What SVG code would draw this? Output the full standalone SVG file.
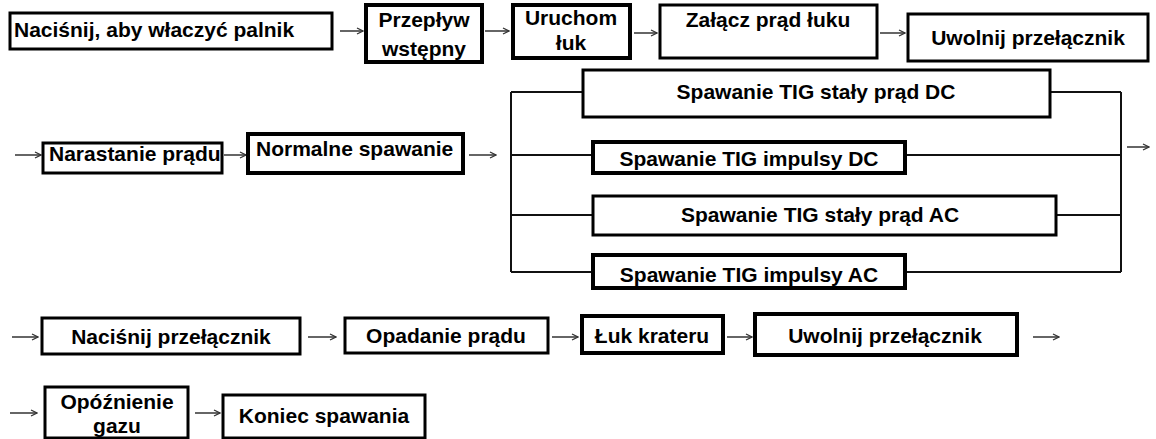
<svg xmlns="http://www.w3.org/2000/svg" width="1156" height="439" viewBox="0 0 1156 439">
<style>
.box{fill:#fff;stroke:#000;stroke-width:3}
.thick{stroke-width:4}
.t{font-family:"Liberation Sans",Arial,sans-serif;font-weight:bold;font-size:21px;fill:#000}
.c{text-anchor:middle}
.conn{stroke:#333;stroke-width:1.5;fill:none}
.ln{stroke:#111;stroke-width:2;fill:none}
</style>
<defs>
<marker id="ah" markerWidth="8" markerHeight="8" refX="7" refY="4" orient="auto" markerUnits="userSpaceOnUse">
<path d="M1,1 L7,4 L1,7" fill="none" stroke="#333" stroke-width="1.3"/>
</marker>
</defs>
<rect width="1156" height="439" fill="#fff"/>
<g id="connectors">
<path class="conn" marker-end="url(#ah)" d="M340,31 H363"/>
<path class="conn" marker-end="url(#ah)" d="M485,31 H509"/>
<path class="conn" marker-end="url(#ah)" d="M634,33 H657"/>
<path class="conn" marker-end="url(#ah)" d="M880,33 H905"/>
<path class="conn" marker-end="url(#ah)" d="M15,155 H41"/>
<path class="conn" marker-end="url(#ah)" d="M224,155 H246"/>
<path class="conn" marker-end="url(#ah)" d="M469,155 H496"/>
<path class="ln" d="M511,92 V272 M1121,92 V272 M511,92 H583 M1050,92 H1121 M511,155 H593 M905,155 H1121 M511,215 H593 M1056,215 H1121 M511,272 H593 M905,272 H1121"/>
<path class="conn" marker-end="url(#ah)" d="M1127,147 H1149"/>
<path class="conn" marker-end="url(#ah)" d="M12,337 H38"/>
<path class="conn" marker-end="url(#ah)" d="M308,337 H336"/>
<path class="conn" marker-end="url(#ah)" d="M552,337 H578"/>
<path class="conn" marker-end="url(#ah)" d="M727,337 H752"/>
<path class="conn" marker-end="url(#ah)" d="M1033,337 H1059"/>
<path class="conn" marker-end="url(#ah)" d="M10,413 H37"/>
<path class="conn" marker-end="url(#ah)" d="M195,413 H220"/>
</g>
<g id="n1"><rect class="box" x="10" y="13" width="322" height="36"/><text class="t" x="14" y="37">Naciśnij, aby właczyć palnik</text></g>
<g id="n2"><rect class="box thick" x="366" y="5" width="116" height="57"/><text class="t c" x="424" y="27">Przepływ</text><text class="t c" x="424" y="56">wstępny</text></g>
<g id="n3"><rect class="box thick" x="513" y="5" width="117" height="53"/><text class="t c" x="571" y="25">Uruchom</text><text class="t c" x="571" y="50">łuk</text></g>
<g id="n4"><rect class="box" x="660" y="5" width="217" height="53"/><text class="t c" x="768" y="27">Załącz prąd łuku</text></g>
<g id="n5"><rect class="box" x="908" y="14" width="240" height="47"/><text class="t c" x="1028" y="45">Uwolnij przełącznik</text></g>
<g id="n6"><rect class="box" x="43" y="143" width="179" height="30"/><text class="t" x="49" y="161">Narastanie prądu</text></g>
<g id="n7"><rect class="box thick" x="248" y="134" width="215" height="39"/><text class="t" x="256" y="156">Normalne spawanie</text></g>
<g id="n8"><rect class="box" x="583" y="70" width="467" height="47"/><text class="t c" x="816" y="99">Spawanie TIG stały prąd DC</text></g>
<g id="n9"><rect class="box thick" x="593" y="142" width="312" height="31"/><text class="t c" x="749" y="166">Spawanie TIG impulsy DC</text></g>
<g id="n10"><rect class="box" x="593" y="196" width="463" height="39"/><text class="t c" x="820" y="222">Spawanie TIG stały prąd AC</text></g>
<g id="n11"><rect class="box thick" x="593" y="255" width="312" height="33"/><text class="t c" x="749" y="282">Spawanie TIG impulsy AC</text></g>
<g id="n12"><rect class="box" x="42" y="318" width="258" height="36"/><text class="t c" x="171" y="344">Naciśnij przełącznik</text></g>
<g id="n13"><rect class="box" x="345" y="318" width="203" height="35"/><text class="t c" x="446" y="343">Opadanie prądu</text></g>
<g id="n14"><rect class="box thick" x="582" y="316" width="141" height="37"/><text class="t c" x="652" y="343">Łuk krateru</text></g>
<g id="n15"><rect class="box thick" x="755" y="314" width="262" height="41"/><text class="t c" x="885" y="343">Uwolnij przełącznik</text></g>
<g id="n16"><rect class="box" x="45" y="387" width="143" height="51"/><text class="t c" x="117" y="409">Opóźnienie</text><text class="t c" x="117" y="433">gazu</text></g>
<g id="n17"><rect class="box" x="223" y="395" width="202" height="43"/><text class="t c" x="324" y="423">Koniec spawania</text></g>
</svg>
